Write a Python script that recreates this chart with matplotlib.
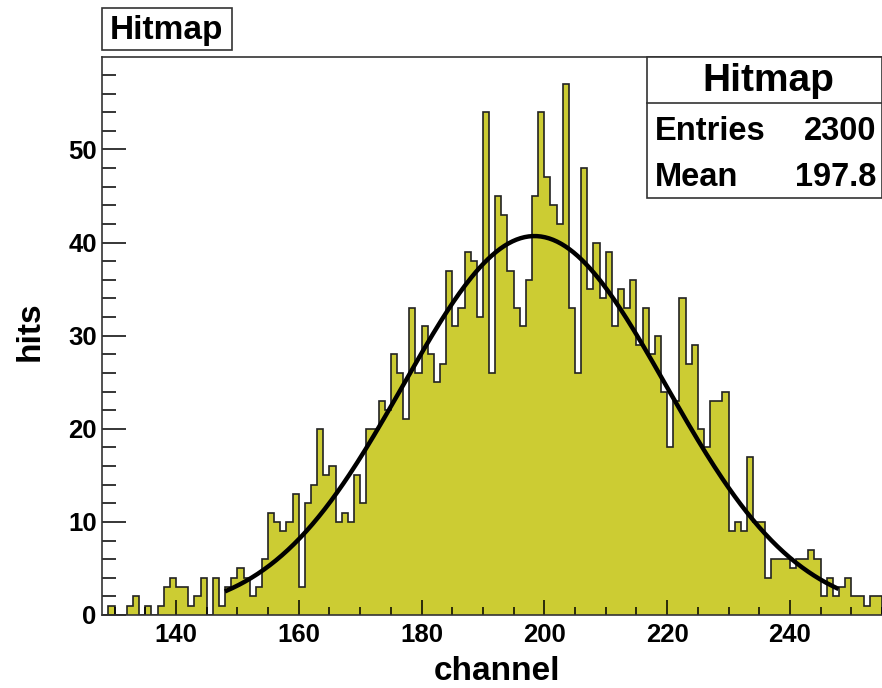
import matplotlib.pyplot as plt, numpy as np
from matplotlib.ticker import MultipleLocator
from matplotlib.patches import Rectangle

plt.rcParams['font.family'] = ['Liberation Sans', 'DejaVu Sans']
plt.rcParams['font.weight'] = 'bold'

W, H = 882, 688

# hits per channel, channels 128..254
first_channel = 128
counts = [0, 1, 0, 0, 1, 2, 0, 1, 0, 1,
          3, 4, 3, 3, 1, 2, 4, 0, 4, 1,
          3, 4, 5, 4, 2, 3, 6, 11, 10, 9,
          10, 13, 3, 12, 14, 20, 15, 16, 10, 11,
          10, 15, 12, 20, 20, 23, 22, 28, 26, 21,
          33, 26, 31, 28, 25, 27, 37, 31, 33, 39,
          38, 32, 54, 26, 45, 43, 37, 33, 31, 36,
          45, 54, 47, 44, 42, 57, 33, 26, 48, 35,
          40, 34, 39, 31, 35, 33, 36, 29, 33, 28,
          30, 24, 18, 23, 34, 27, 29, 20, 18, 23,
          23, 24, 9, 10, 9, 17, 10, 10, 4, 6,
          6, 6, 5, 6, 6, 7, 6, 2, 4, 2,
          3, 4, 2, 2, 1, 2, 2]

# gaussian fit
fit_const = 40.7
fit_mean = 198.4
fit_sigma = 21.4
fit_range = (148.3, 247.6)

title = "Hitmap"
entries = "2300"
mean = "197.8"

edges = np.arange(first_channel, first_channel + len(counts) + 1)


def px(x, y):
    # pixel position (from top left) -> figure fraction
    return x / W, 1 - y / H


fig = plt.figure(figsize=(W / 100, H / 100), dpi=100)
ax = fig.add_axes([102.3 / W, (H - 615) / H, (W - 102.3) / W, (615 - 57.3) / H])

ax.stairs(counts, edges, fill=True, color='#cccc33')
ax.stairs(counts, edges, color='#222222', linewidth=1.2)

xf = np.linspace(fit_range[0], fit_range[1], 300)
ax.plot(xf, fit_const * np.exp(-0.5 * ((xf - fit_mean) / fit_sigma) ** 2),
        color='black', linewidth=3.2)

ax.set_xlim(128, 255)
ax.set_ylim(0, 59.9)
ax.set_xticks(range(140, 241, 20))
ax.set_yticks(range(0, 51, 10))
ax.xaxis.set_minor_locator(MultipleLocator(5))
ax.yaxis.set_minor_locator(MultipleLocator(2))
ax.tick_params(axis='x', which='major', direction='in', length=10.8, width=1.1,
               labelsize=18.5, pad=6)
ax.tick_params(axis='x', which='minor', direction='in', length=5.5, width=1.1)
ax.tick_params(axis='y', which='major', direction='in', length=17.5, width=1.1,
               labelsize=18.5, pad=4)
ax.tick_params(axis='y', which='minor', direction='in', length=10, width=1.1)
for lab in ax.get_xticklabels() + ax.get_yticklabels():
    lab.set_fontweight('bold')
ax.spines['right'].set_visible(False)
for s in ('left', 'bottom', 'top'):
    ax.spines[s].set_linewidth(1.2)
    ax.spines[s].set_color('#333333')

fig.text(*px(497, 671), "channel", fontsize=24, fontweight='bold',
         ha='center', va='center')
fig.text(*px(30, 331), "hits", fontsize=24, fontweight='bold',
         ha='center', va='center', rotation=90)

# title box
x0, y0 = px(102, 50)
x1, y1 = px(232, 8)
fig.patches.append(Rectangle((x0, y0), x1 - x0, y1 - y0, transform=fig.transFigure,
                             facecolor='white', edgecolor='#333333', linewidth=1.2))
fig.text(*px(166, 31), title, fontsize=24, fontweight='bold', ha='center', va='center')

# stats box
x0, y0 = px(647, 198)
x1, y1 = px(881.5, 57.3)
fig.patches.append(Rectangle((x0, y0), x1 - x0, y1 - y0, transform=fig.transFigure,
                             facecolor='white', edgecolor='#333333', linewidth=1.2,
                             zorder=5))
fig.lines.append(plt.Line2D([x0, x1], [px(0, 102.7)[1]] * 2, transform=fig.transFigure,
                            color='#333333', linewidth=1.2, zorder=6))
fig.text(*px(768, 81), title, fontsize=28, fontweight='bold', ha='center',
         va='center', zorder=7)
fig.text(*px(655, 131), "Entries", fontsize=23.5, fontweight='bold', ha='left',
         va='center', zorder=7)
fig.text(*px(876, 131), entries, fontsize=23.5, fontweight='bold', ha='right',
         va='center', zorder=7)
fig.text(*px(655, 177), "Mean", fontsize=23.5, fontweight='bold', ha='left',
         va='center', zorder=7)
fig.text(*px(876, 177), mean, fontsize=23.5, fontweight='bold', ha='right',
         va='center', zorder=7)

fig.savefig("out.png", dpi=100)
